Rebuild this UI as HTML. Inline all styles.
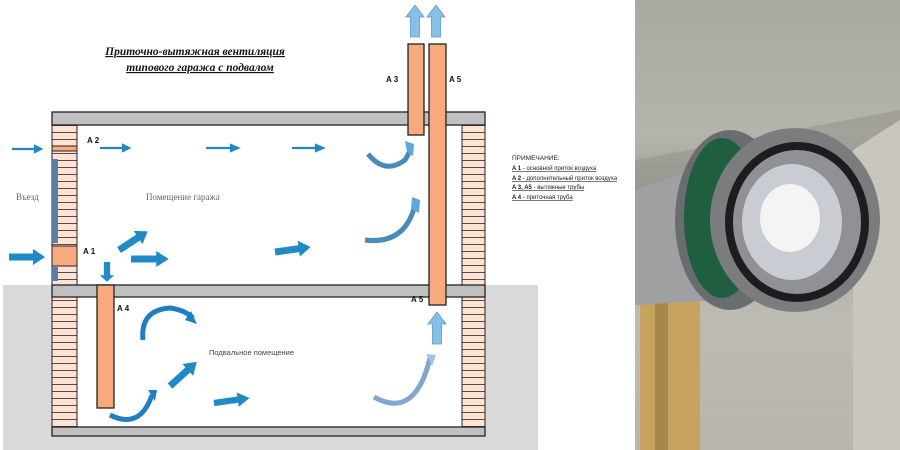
<!DOCTYPE html>
<html><head><meta charset="utf-8"><style>
html,body{margin:0;padding:0;background:#fff;width:900px;height:450px;overflow:hidden;position:relative}
svg{position:absolute;left:0;top:0}
.photo{position:absolute;left:635px;top:0;width:265px;height:450px;overflow:hidden;
background:linear-gradient(180deg,#a9a9a2 0%,#b4b4ac 30%,#9c9c94 45%,#bdbbb3 70%,#b8b5ad 100%)}
</style></head><body>
<svg width="640" height="450" viewBox="0 0 640 450" font-family="Liberation Sans, sans-serif">
<defs>
<pattern id="br" x="0" y="0" width="30" height="7" patternUnits="userSpaceOnUse">
<rect width="30" height="7" fill="#fde3d3"/><line x1="0" y1="6.5" x2="30" y2="6.5" stroke="#5a4a44" stroke-width="1"/>
</pattern>
<g id="fa"><polygon points="0,-3.5 24,-3.5 24,-8 36,0 24,8 24,3.5 0,3.5"/></g>
<g id="up"><polygon points="-4.5,32 -4.5,12 -9,12 0,0 9,12 4.5,12 4.5,32"/></g>
</defs>
<rect x="3" y="285" width="535" height="165" fill="#d9d9d9"/>
<rect x="52" y="125" width="433" height="302" fill="#fff"/>
<!-- walls -->
<rect x="52" y="125" width="25" height="160" fill="url(#br)" stroke="#222"/>
<rect x="52" y="297" width="25" height="130" fill="url(#br)" stroke="#222"/>
<rect x="462" y="125" width="23" height="160" fill="url(#br)" stroke="#222"/>
<rect x="462" y="297" width="23" height="130" fill="url(#br)" stroke="#222"/>
<rect x="52" y="112" width="433" height="13" fill="#c0c0c0" stroke="#222" stroke-width="1.3"/>
<rect x="52" y="285" width="433" height="12" fill="#c0c0c0" stroke="#222" stroke-width="1.3"/>
<rect x="52" y="427" width="433" height="9" fill="#c0c0c0" stroke="#222" stroke-width="1.3"/>
<!-- door -->
<rect x="52" y="159" width="6" height="84" fill="#5b7fa0"/>
<rect x="52" y="267" width="6" height="14" fill="#5b7fa0"/>
<rect x="52" y="146" width="25" height="5" fill="#f7ab7c" stroke="#222"/>
<rect x="52" y="246" width="25" height="20" fill="#f7ab7c" stroke="#222"/>
<!-- pipes -->
<rect x="97" y="285" width="17" height="123" fill="#f7ab7c" stroke="#222" stroke-width="1.3"/>
<rect x="408" y="44" width="16" height="91" fill="#f7ab7c" stroke="#222" stroke-width="1.3"/>
<rect x="429" y="44" width="17" height="261" fill="#f7ab7c" stroke="#222" stroke-width="1.3"/>
<!-- light up arrows -->
<g fill="#86c0e6" stroke="#5a9ccc" stroke-width="0.8">
<use href="#up" x="415" y="5"/><use href="#up" x="436" y="5"/><use href="#up" x="437" y="312"/>
</g>
<!-- thin arrows -->
<g stroke="#2287c6" stroke-width="2.2" fill="#2287c6">
<line x1="12" y1="149" x2="36" y2="149"/><polygon points="35,146 41,149 35,152"/>
<line x1="100" y1="148" x2="124" y2="148"/><polygon points="123,145 129,148 123,151"/>
<line x1="206" y1="148" x2="232" y2="148"/><polygon points="231,145 238,148 231,151"/>
<line x1="292" y1="148" x2="317" y2="148"/><polygon points="316,145 323,148 316,151"/>
</g>
<!-- fat arrows -->
<g fill="#1f8ac6">
<use href="#fa" x="9" y="257" transform="scale(1,1)"/>
<use href="#fa" transform="translate(131,259) scale(1.05,1)"/>
<use href="#fa" transform="translate(275,252) rotate(-8)"/>
<use href="#fa" transform="translate(119,250) rotate(-33) scale(0.95,1)"/>
<use href="#fa" transform="translate(107,262) rotate(90) scale(0.55,0.9)"/>
<use href="#fa" transform="translate(170,386) rotate(-42) scale(1,1)"/>
<use href="#fa" transform="translate(214,403) rotate(-8) scale(1,0.9)"/>
</g>
<!-- curved arrows -->
<g fill="none" stroke-linecap="butt">
<path d="M368,154 Q385,175 405,160 Q410,152 411,147" stroke="#4a8ab8" stroke-width="5"/>
<path d="M365,240 Q405,245 415,205" stroke="#4a8ab8" stroke-width="5"/>
<path d="M143,340 Q140,310 170,308 Q185,310 193,318" stroke="#1f7fbf" stroke-width="5"/>
<path d="M110,415 Q140,430 152,395" stroke="#1f7fbf" stroke-width="5"/>
<path d="M374,397 Q415,420 430,358" stroke="#7fa7cf" stroke-width="5"/>
</g>
<g>
<polygon points="405,141 414,144 413,156 407,152" fill="#5ea7da"/>
<polygon points="412,197 420,200 419,213 411,209" fill="#5ea7da"/>
<polygon points="191,311 197,324 185,320" fill="#1f7fbf"/>
<polygon points="148,390 157,390 155,401" fill="#1f7fbf"/>
<polygon points="426,354 436,355 432,366" fill="#9fc3e6"/>
</g>
<!-- text -->
<g font-family="Liberation Serif, serif" font-style="italic" font-weight="bold" font-size="11.5" fill="#111" text-anchor="middle" text-decoration="underline">
<text x="195" y="55">Приточно-вытяжная вентиляция</text>
<text x="200" y="71">типового гаража с подвалом</text>
</g>
<g font-size="8" font-weight="bold" fill="#111">
<text x="87" y="143">A 2</text><text x="83" y="254">A 1</text><text x="117" y="311">A 4</text>
<text x="386" y="82">A 3</text><text x="449" y="82">A 5</text><text x="411" y="302">A 5</text>
</g>
<text x="16" y="200" font-family="Liberation Serif, serif" font-size="9" fill="#666">Въезд</text>
<text x="146" y="200" font-family="Liberation Serif, serif" font-size="9" fill="#666">Помещение гаража</text>
<text x="209" y="355" font-size="7.5" fill="#444">Подвальное помещение</text>
<g font-size="6" fill="#222">
<text x="512" y="160" font-size="6.5">ПРИМЕЧАНИЕ:</text>
<text x="512" y="170" text-decoration="underline"><tspan font-weight="bold">A 1</tspan> - основной приток воздуха</text>
<text x="512" y="180" text-decoration="underline"><tspan font-weight="bold">A 2</tspan> - дополнительный приток воздуха</text>
<text x="512" y="189" text-decoration="underline"><tspan font-weight="bold">A 3, A5</tspan> - вытяжные трубы</text>
<text x="512" y="199" text-decoration="underline"><tspan font-weight="bold">A 4</tspan> - приточная труба</text>
</g>
</svg>
<div class="photo">
<svg width="265" height="450" viewBox="635 0 265 450" style="position:absolute;left:0;top:0">
<polygon points="635,160 900,110 900,130 790,180 635,200" fill="#8f8f88" opacity="0.5"/>
<polygon points="853,150 900,120 900,450 853,450" fill="#c9c6bd"/>
<polygon points="640,300 700,300 700,450 640,450" fill="#c6a35e"/>
<polygon points="655,300 668,300 668,450 655,450" fill="#a88848"/>
<polygon points="635,190 720,160 720,300 635,305" fill="#9fa0a2"/>
<ellipse cx="730" cy="220" rx="55" ry="90" fill="#6a6d70"/>
<ellipse cx="722" cy="218" rx="38" ry="80" fill="#1f5e3f"/>
<ellipse cx="795" cy="220" rx="85" ry="92" fill="#7a7c7e"/>
<ellipse cx="797" cy="222" rx="72" ry="80" fill="#1b1d1f"/>
<ellipse cx="797" cy="222" rx="64" ry="72" fill="#8f9194"/>
<ellipse cx="792" cy="222" rx="50" ry="58" fill="#c9cdd3"/>
<ellipse cx="790" cy="218" rx="30" ry="34" fill="#f4f4f4"/>
</svg>
</div>
</body></html>
